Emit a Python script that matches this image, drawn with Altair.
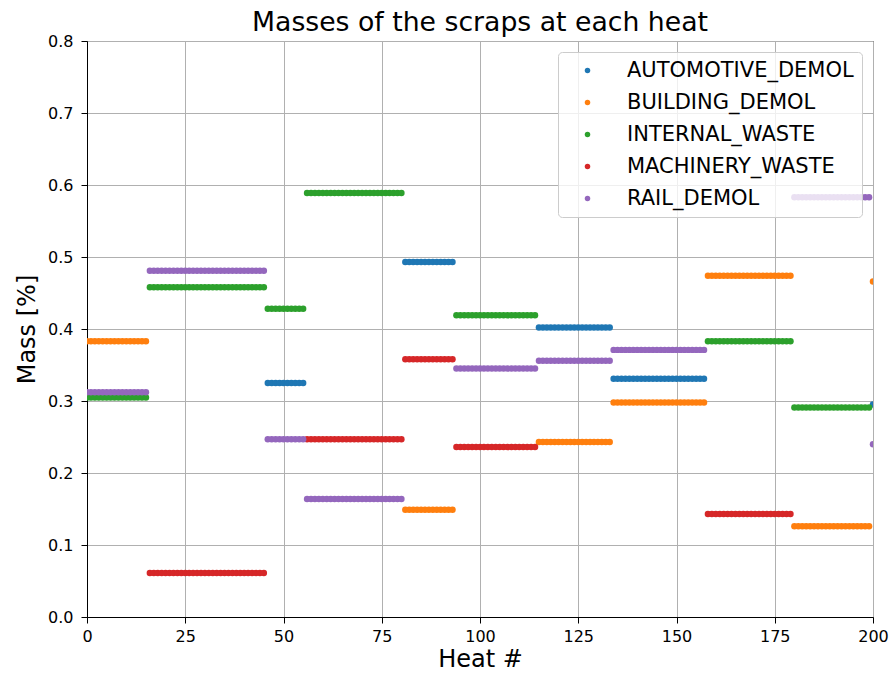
import altair as alt
import pandas as pd

# Heat segments (first and last heat of each block of constant masses)
SEG_START = [0, 16, 46, 56, 81, 94, 115, 134, 158, 180, 200]
SEG_END = [15, 45, 55, 80, 93, 114, 133, 157, 179, 199, 200]

# Mass fraction of each scrap in each segment (None = scrap not used)
AUTOMOTIVE_DEMOL = [None, None, 0.325, None, 0.493, None, 0.402, 0.331, None, None, 0.295]
BUILDING_DEMOL = [0.383, None, None, None, 0.149, None, 0.243, 0.298, 0.474, 0.126, 0.466]
INTERNAL_WASTE = [0.305, 0.458, 0.428, 0.589, None, 0.419, None, None, 0.383, 0.291, None]
MACHINERY_WASTE = [None, 0.061, None, 0.247, 0.358, 0.236, None, None, 0.143, None, None]
RAIL_DEMOL = [0.312, 0.481, 0.247, 0.164, None, 0.345, 0.356, 0.371, None, 0.583, 0.240]

SCRAPS = ["AUTOMOTIVE_DEMOL", "BUILDING_DEMOL", "INTERNAL_WASTE", "MACHINERY_WASTE", "RAIL_DEMOL"]
SERIES = [AUTOMOTIVE_DEMOL, BUILDING_DEMOL, INTERNAL_WASTE, MACHINERY_WASTE, RAIL_DEMOL]
COLORS = ["#1f77b4", "#ff7f0e", "#2ca02c", "#d62728", "#9467bd"]

X_TICKS = [0, 25, 50, 75, 100, 125, 150, 175, 200]
Y_TICKS = [0.0, 0.1, 0.2, 0.3, 0.4, 0.5, 0.6, 0.7, 0.8]

rows = []
for order, (name, vals) in enumerate(zip(SCRAPS, SERIES)):
    for s, e, v in zip(SEG_START, SEG_END, vals):
        if v is None:
            continue
        for h in range(s, e + 1):
            rows.append({"heat": h, "mass": v, "scrap": name, "order": order})
df = pd.DataFrame(rows)

FONT = "DejaVu Sans"

chart = (
    alt.Chart(df, title=alt.TitleParams(
        "Masses of the scraps at each heat", fontSize=26.7, font=FONT,
        fontWeight="normal", color="black", anchor="middle", offset=-4))
    .mark_circle(size=42, opacity=1, clip=True)
    .encode(
        x=alt.X("heat:Q", title="Heat #",
                scale=alt.Scale(domain=[0, 200], nice=False, zero=False),
                axis=alt.Axis(values=X_TICKS, format="d", labelPadding=5, titlePadding=3)),
        y=alt.Y("mass:Q", title="Mass [%]",
                scale=alt.Scale(domain=[0, 0.8], nice=False),
                axis=alt.Axis(values=Y_TICKS, format=".1f", labelPadding=8, titlePadding=8)),
        color=alt.Color("scrap:N", title=None,
                        scale=alt.Scale(domain=SCRAPS, range=COLORS),
                        legend=alt.Legend(
                            orient="none", legendX=471, legendY=11,
                            padding=8, symbolOffset=11, labelOffset=29,
                            symbolSize=30, symbolType="circle",
                            labelFontSize=21, labelFont=FONT, labelColor="black",
                            rowPadding=10, fillColor="rgba(255,255,255,0.8)",
                            strokeColor="#cccccc", cornerRadius=4,
                            labelLimit=400)),
        order=alt.Order("order:Q"),
    )
    .properties(
        width=786, height=576,
        autosize=alt.AutoSizeParams(type="none"),
        padding={"left": 87, "top": 41, "right": 21, "bottom": 61},
    )
    .configure_view(stroke="black", strokeWidth=1)
    .configure_axis(
        labelFont=FONT, labelFontSize=16, labelColor="black",
        titleFont=FONT, titleFontSize=24, titleFontWeight="normal", titleColor="black",
        domainColor="black", domainWidth=1, tickColor="black", tickSize=6, tickWidth=1,
        gridColor="#b0b0b0", gridWidth=1, gridOpacity=1, labelFlush=False,
    )
)

chart.save("out.html", embed_options={"renderer": "svg", "actions": False})
